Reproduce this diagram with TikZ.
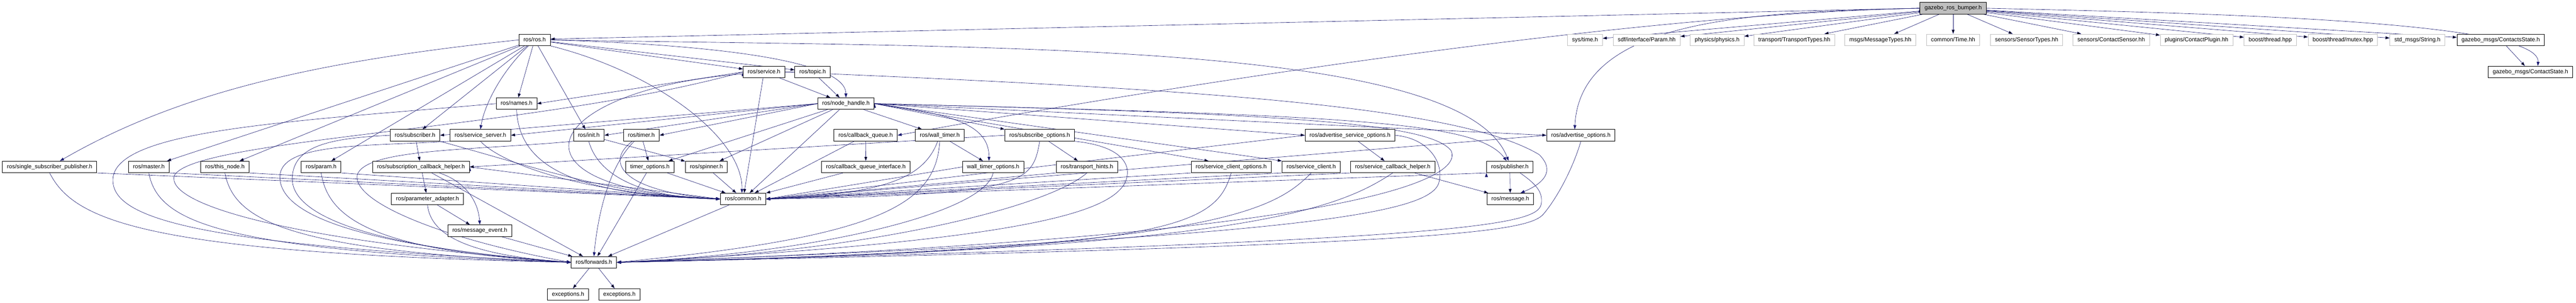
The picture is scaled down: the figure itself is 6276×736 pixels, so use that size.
\documentclass[tikz,border=0pt]{standalone}
\usepackage{fontspec}
\setmainfont{Liberation Sans}
\usetikzlibrary{arrows.meta}

\definecolor{incblue}{HTML}{191970}
\definecolor{extgray}{HTML}{BFBFBF}

\pgfdeclarelayer{edges}
\pgfsetlayers{edges,main}

\tikzset{
  hfile/.style={draw=black, line width=1.2pt, fill=white, inner xsep=11pt, inner ysep=0pt,
    minimum height=28pt, text height=10.5pt, text depth=3pt, font=\fontsize{14}{16}\selectfont},
  extfile/.style={hfile, draw=extgray},
  rootfile/.style={hfile, fill=extgray},
  inc/.style={draw=incblue, line width=0.8pt, -{Triangle[length=10pt,width=7pt]}},
}

\begin{document}
\begin{tikzpicture}[x=1pt,y=1pt]
\useasboundingbox (0,0) rectangle (6276,736);

% the file itself
\node[rootfile] (bumper)    at (4758.5,716) {gazebo\_ros\_bumper.h};

% first level
\node[hfile]   (ros)        at (1302.5,639) {ros/ros.h};
\node[extfile] (systime)    at (3861.5,639) {sys/time.h};
\node[extfile] (sdfparam)   at (4012,639)   {sdf/interface/Param.hh};
\node[extfile] (physics)    at (4183.5,639) {physics/physics.h};
\node[extfile] (transport)  at (4371.5,639) {transport/TransportTypes.hh};
\node[extfile] (msgtypes)   at (4581,639)   {msgs/MessageTypes.hh};
\node[extfile] (comtime)    at (4758.5,639) {common/Time.hh};
\node[extfile] (senstypes)  at (4937.5,639) {sensors/SensorTypes.hh};
\node[extfile] (contact)    at (5143.5,639) {sensors/ContactSensor.hh};
\node[extfile] (plugin)     at (5351.5,639) {plugins/ContactPlugin.hh};
\node[extfile] (bthread)    at (5531,639)   {boost/thread.hpp};
\node[extfile] (bmutex)     at (5708,639)   {boost/thread/mutex.hpp};
\node[extfile] (stdstring)  at (5889.5,639) {std\_msgs/String.h};
\node[hfile]   (cstates)    at (6092.5,639) {gazebo\_msgs/ContactsState.h};

\node[hfile]   (service)    at (1861.5,561) {ros/service.h};
\node[hfile]   (topic)      at (1980,561)   {ros/topic.h};
\node[hfile]   (cstate)     at (6165,561)   {gazebo\_msgs/ContactState.h};

\node[hfile]   (names)      at (1258.5,484) {ros/names.h};
\node[hfile]   (nh)         at (2061,484)   {ros/node\_handle.h};

\node[hfile]   (sub)        at (1011,407)   {ros/subscriber.h};
\node[hfile]   (srvserver)  at (1170.5,407) {ros/service\_server.h};
\node[hfile]   (init)       at (1434.5,407) {ros/init.h};
\node[hfile]   (timer)      at (1562.5,407) {ros/timer.h};
\node[hfile]   (cbq)        at (2109,407)   {ros/callback\_queue.h};
\node[hfile]   (walltimer)  at (2289.5,407) {ros/wall\_timer.h};
\node[hfile]   (subopts)    at (2533,407)   {ros/subscribe\_options.h};
\node[hfile]   (advsrvopts) at (3289,407)   {ros/advertise\_service\_options.h};
\node[hfile]   (advopts)    at (3851.5,407) {ros/advertise\_options.h};

\node[hfile]   (ssp)        at (121,330)    {ros/single\_subscriber\_publisher.h};
\node[hfile]   (master)     at (362.5,330)  {ros/master.h};
\node[hfile]   (thisnode)   at (548,330)    {ros/this\_node.h};
\node[hfile]   (param)      at (782.5,330)  {ros/param.h};
\node[hfile]   (subcb)      at (1025.5,330) {ros/subscription\_callback\_helper.h};
\node[hfile]   (timeropts)  at (1583.5,330) {timer\_options.h};
\node[hfile]   (spinner)    at (1721,330)   {ros/spinner.h};
\node[hfile]   (cbqi)       at (2109.5,330) {ros/callback\_queue\_interface.h};
\node[hfile]   (walltopts)  at (2419.5,330) {wall\_timer\_options.h};
\node[hfile]   (hints)      at (2648,330)   {ros/transport\_hints.h};
\node[hfile]   (srvcltopts) at (2999.5,330) {ros/service\_client\_options.h};
\node[hfile]   (srvclt)     at (3194.5,330) {ros/service\_client.h};
\node[hfile]   (srvcb)      at (3393,330)   {ros/service\_callback\_helper.h};
\node[hfile]   (pub)        at (3678.5,330) {ros/publisher.h};

\node[hfile]   (padapt)     at (1041.5,252) {ros/parameter\_adapter.h};
\node[hfile]   (common)     at (1810.5,252) {ros/common.h};
\node[hfile]   (message)    at (3679.5,252) {ros/message.h};

\node[hfile]   (msgevent)   at (1169,175)   {ros/message\_event.h};
\node[hfile]   (fwd)        at (1447,98)    {ros/forwards.h};
\node[hfile]   (exc1)       at (1384,20)    {exceptions.h};
\node[hfile]   (exc2)       at (1509,20)    {exceptions.h};

\begin{pgfonlayer}{edges}
% includes of gazebo_ros_bumper.h
\path[inc]
  (bumper.west) edge ([yshift=2pt]ros.east)
  (bumper) edge (systime)
  (bumper) edge (sdfparam)
  (bumper) edge (physics)
  (bumper) edge (transport)
  (bumper) edge (msgtypes)
  (bumper) edge (comtime)
  (bumper) edge (senstypes)
  (bumper) edge (contact)
  (bumper) edge (plugin)
  (bumper) edge (bthread)
  (bumper) edge (bmutex)
  (bumper) edge (stdstring)
  (bumper) edge (cstates)
  (cstates) edge (cstate)
  ;
\draw[inc] (bumper.west) .. controls (3900,700) and (2700,500) .. (cbq.east);
\draw[inc] (bumper.west) .. controls (4300,706) and (3850,700) .. ([xshift=-15pt]advopts.north);
\draw[inc] (bumper.east) .. controls (5300,705) and (6190,690) .. ([xshift=18pt]cstate.north);

% ros/ros.h
\path[inc]
  (ros) edge (master)
  (ros) edge (thisnode)
  (ros) edge (param)
  (ros) edge (sub)
  (ros) edge (names)
  (ros) edge (init)
  (ros) edge (topic)
  (ros) edge (service)
  ;
\draw[inc] (ros.west) .. controls (800,590) and (450,520) .. ([xshift=25pt]ssp.north);
\draw[inc] (ros) .. controls (1220,560) and (1180,480) .. (srvserver.north);
\draw[inc] (ros.east) .. controls (1650,630) and (2060,600) .. (nh.north);
\draw[inc] (ros.south east) .. controls (1600,560) and (1810,400) .. ([xshift=-3pt]common.north);
\draw[inc] (ros.east) .. controls (2400,620) and (3560,640) .. ([xshift=-3pt]pub.north);

% ros/service.h, ros/topic.h, ros/names.h
\path[inc]
  (service) edge (nh)
  (service) edge (common)
  (service.west) edge (names.east)
  (topic) edge (nh)
  ;
\draw[inc] (service.east) .. controls (2900,520) and (3550,480) .. (3750,360)
  .. controls (3790,320) and (3760,290) .. ([xshift=25pt]message.north);
\draw[inc] (service.west) .. controls (1300,420) and (480,400) .. (425,310)
  .. controls (400,240) and (700,150) .. (fwd.west);
\draw[inc] (topic.west) .. controls (1350,560) and (1150,280) .. (common.west);
\draw[inc] (names.south) .. controls (1265,330) and (1400,262) .. (common.west);
\draw[inc] (names.west) .. controls (700,440) and (280,420) .. (275,300)
  .. controls (272,200) and (500,140) .. (fwd.west);

% ros/node_handle.h
\path[inc]
  (nh.west) edge (sub.east)
  (nh.west) edge (srvserver.east)
  (nh.west) edge (init.east)
  (nh.west) edge (timer.east)
  (nh) edge (timeropts)
  (nh) edge (spinner)
  (nh) edge (common)
  (nh) edge (walltimer)
  (nh.east) edge (subopts.north west)
  (nh.east) edge (advsrvopts.west)
  (nh.east) edge (advopts.west)
  (nh.east) edge ([xshift=-55pt]srvcltopts.north)
  (nh.east) edge (srvclt.north west)
  ;
\draw[inc] (nh.east) .. controls (2300,460) and (2410,440) .. ([xshift=-10pt]walltopts.north);
\draw[inc] (nh.east) .. controls (3300,455) and (3600,440) .. ([xshift=-8pt]pub.north);
\draw[inc] (nh.east) .. controls (3100,460) and (3480,440) .. (3535,370)
  .. controls (3570,300) and (3300,160) .. (fwd.east);

% left part
\path[inc]
  (sub) edge (subcb)
  (init) edge (spinner)
  (timer) edge (timeropts)
  (timeropts) edge (fwd)
  (timeropts) edge (common)
  (spinner) edge (common)
  (ssp.south east) edge (common.west)
  (master.south east) edge (common.west)
  (thisnode.south east) edge (common.west)
  (param.south east) edge (common.west)
  (subcb.east) edge (common.west)
  (subcb) edge (padapt)
  (subcb) edge (fwd)
  (padapt) edge (msgevent)
  (msgevent) edge (fwd)
  (common) edge (fwd)
  (fwd) edge (exc1)
  (fwd) edge (exc2)
  ;
\draw[inc] (sub.south east) .. controls (1300,330) and (1500,260) .. (common.west);
\draw[inc] (srvserver.south) .. controls (1230,330) and (1450,262) .. (common.west);
\draw[inc] (init.south) .. controls (1460,300) and (1580,255) .. (common.west);
\draw[inc] ([xshift=45pt]subcb.south) .. controls (1130,296) and (1165,250) .. (msgevent.north);
\draw[inc] (sub.west) .. controls (800,400) and (712,380) .. (712,300)
  .. controls (714,200) and (950,130) .. (fwd.west);
\draw[inc] (srvserver.south west) .. controls (900,380) and (690,390) .. (682,310)
  .. controls (676,220) and (850,140) .. (fwd.west);
\draw[inc] (init.south west) .. controls (1150,370) and (890,375) .. (870,310)
  .. controls (860,240) and (1100,150) .. (fwd.west);
\draw[inc] ([xshift=-17pt]timer.south) .. controls (1480,330) and (1455,200) .. (fwd.north);
\draw[inc] ([xshift=-22pt]timer.south) .. controls (1470,340) and (1520,270) .. (common.west);
\draw[inc] (ssp.south) .. controls (180,200) and (350,120) .. (fwd.west);
\draw[inc] (master.south) .. controls (385,200) and (520,125) .. (fwd.west);
\draw[inc] (thisnode.south) .. controls (570,200) and (700,125) .. (fwd.west);
\draw[inc] (param.south) .. controls (800,200) and (920,125) .. (fwd.west);
\draw[inc] (padapt.south) .. controls (1050,160) and (1150,115) .. (fwd.west);

% middle and right part
\path[inc]
  (cbq) edge (cbqi)
  (cbq) edge (common)
  (cbqi) edge (common)
  (walltimer) edge (walltopts)
  (walltopts.west) edge (common.east)
  (subopts) edge (hints)
  (subopts.west) edge (subcb.east)
  (hints.south west) edge (common.east)
  (srvcltopts.south west) edge (common.east)
  (srvclt.south west) edge (common.east)
  (advsrvopts) edge (srvcb)
  (advsrvopts.west) edge (common.east)
  (advopts.west) edge (common.east)
  (srvcb) edge (message)
  (srvcb.south west) edge (common.east)
  (pub) edge (message)
  (pub.south west) edge (common.east)
  ;
\draw[inc] ([xshift=-5pt]walltimer.south) .. controls (2250,300) and (2150,265) .. (common.east);
\draw[inc] (walltimer.south) .. controls (2280,240) and (2150,160) .. (fwd.east);
\draw[inc] (walltopts.south) .. controls (2400,220) and (2000,120) .. (fwd.east);
\draw[inc] (subopts.south) .. controls (2515,290) and (2500,262) .. (common.east);
\draw[inc] (subopts.south east) .. controls (2740,380) and (2760,330) .. (2740,290)
  .. controls (2700,220) and (2500,150) .. (fwd.east);
\draw[inc] (hints.south) .. controls (2550,230) and (2100,120) .. (fwd.east);
\draw[inc] (srvcltopts.south) .. controls (2960,180) and (2850,130) .. (fwd.east);
\draw[inc] (srvclt.south) .. controls (3100,220) and (2950,130) .. (fwd.east);
\draw[inc] (srvcb.south) .. controls (3250,220) and (3000,130) .. (fwd.east);
\draw[inc] (advsrvopts.east) .. controls (3480,400) and (3520,340) .. (3505,290)
  .. controls (3480,220) and (3200,160) .. (fwd.east);
\draw[inc] ([xshift=25pt]pub.south) .. controls (3740,290) and (3760,270) .. (3755,240)
  .. controls (3745,190) and (3600,150) .. (fwd.east);
\draw[inc] (advopts.south) .. controls (3830,320) and (3790,250) .. (3760,215)
  .. controls (3720,170) and (3500,140) .. (fwd.east);
\end{pgfonlayer}
\end{tikzpicture}
\end{document}
